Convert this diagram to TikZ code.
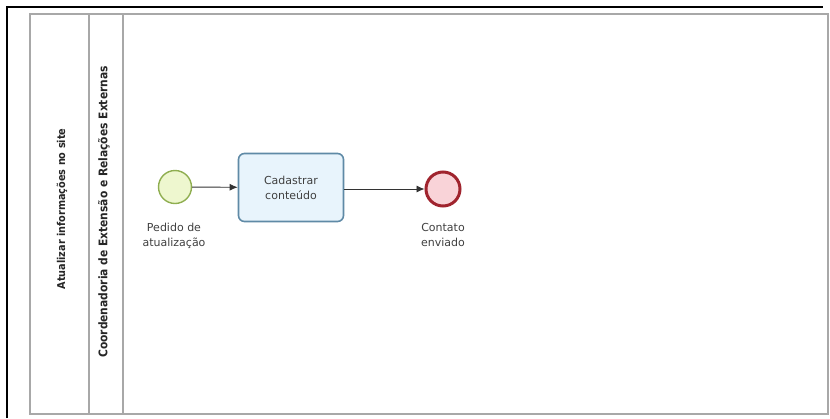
\documentclass[tikz,border=0pt]{standalone}
\usepackage{fontspec}
\setmainfont{DejaVu Sans}
\newfontfamily\lanefont{DejaVu Sans Condensed}
\usetikzlibrary{arrows.meta}
\definecolor{poolline}{HTML}{A8A8A8}
\definecolor{startfill}{HTML}{EEF7CF}
\definecolor{startdraw}{HTML}{8FAE50}
\definecolor{taskfill}{HTML}{E8F4FC}
\definecolor{taskdraw}{HTML}{5F8AA6}
\definecolor{endfill}{HTML}{F9D3D8}
\definecolor{enddraw}{HTML}{A0242E}
\tikzset{
  lanerule/.style={draw=poolline, line width=1.6pt},
  lanetitle/.style={rotate=90, font=\lanefont\bfseries, text=black!85},
  startevent/.style={circle, draw=startdraw, fill=startfill, line width=1.4pt, minimum size=33pt, inner sep=0pt},
  endevent/.style={circle, draw=enddraw, fill=endfill, line width=3pt, minimum size=34pt, inner sep=0pt},
  taskbox/.style={rounded corners=6pt, draw=taskdraw, fill=taskfill, line width=1.6pt, minimum width=105pt, minimum height=68pt, align=center, font=\fontsize{11}{15}\selectfont, text=black!75},
  evlabel/.style={align=center, font=\fontsize{11}{15}\selectfont, text=black!75},
  flow/.style={draw=black!80, line width=0.9pt, -{Latex[length=8pt,width=7pt]}}
}
\begin{document}
\begin{tikzpicture}[x=1pt,y=-1pt]
  \useasboundingbox (0,0) rectangle (830,418);
  \fill[white] (0,0) rectangle (830,418);
  % outer frame
  \draw[black, line width=2.2pt] (7,418) -- (7,7) -- (823,7);
  % pool and lanes
  \draw[lanerule] (30,414) -- (30,14) -- (828,14) -- (828,414) -- cycle;
  \draw[lanerule] (89,14) -- (89,414);
  \draw[lanerule] (123,14) -- (123,414);
  \node[lanetitle, font=\lanefont\bfseries\fontsize{10.8}{12}\selectfont] (pooltitle) at (62,209) {Atualizar informações no site};
  \node[lanetitle, font=\lanefont\bfseries\fontsize{11.9}{13}\selectfont] (lanetitle) at (104,212) {Coordenadoria de Extensão e Relações Externas};
  % process
  \node[startevent] (start) at (175,187) {};
  \node[taskbox] (task) at (291,187.5) {Cadastrar\\conteúdo};
  \node[endevent] (end) at (443,189) {};
  \node[evlabel, anchor=north] (startlbl) at (174,220) {Pedido de\\atualização};
  \node[evlabel, anchor=north] (endlbl) at (443,220) {Contato\\enviado};
  \draw[flow] (start) -- (task);
  \draw[flow] (task.east |- end) -- (end);
\end{tikzpicture}
\end{document}
